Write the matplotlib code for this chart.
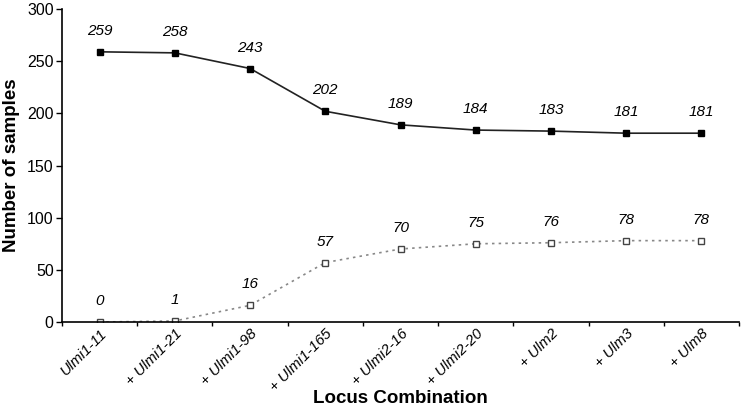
import matplotlib.pyplot as plt
import numpy as np

plt.rcParams['font.family'] = ['Liberation Sans', 'DejaVu Sans']

loci = ["Ulmi1-11", "+ Ulmi1-21", "+ Ulmi1-98", "+ Ulmi1-165", "+ Ulmi2-16",
        "+ Ulmi2-20", "+ Ulm2", "+ Ulm3", "+ Ulm8"]
series_top = [259, 258, 243, 202, 189, 184, 183, 181, 181]
series_bottom = [0, 1, 16, 57, 70, 75, 76, 78, 78]

x = np.arange(len(loci))

fig = plt.figure(figsize=(7.42, 4.11), dpi=100)
ax = fig.add_axes([0.0836, 0.2165, 0.9124, 0.7615])

ax.plot(x, series_top, color="#222222", linewidth=1.2, marker="s",
        markersize=5, markerfacecolor="black", markeredgecolor="black")
ax.plot(x, series_bottom, color="#888888", linewidth=1.2, linestyle=(0, (1.5, 2.5)),
        marker="s", markersize=5, markerfacecolor="white",
        markeredgecolor="#444444", markeredgewidth=1.0)

for xi, v in zip(x, series_top):
    ax.annotate(str(v), (xi, v), xytext=(0, 10), textcoords="offset points",
                ha="center", va="bottom", fontsize=11, style="italic")
for xi, v in zip(x, series_bottom):
    ax.annotate(str(v), (xi, v), xytext=(0, 10), textcoords="offset points",
                ha="center", va="bottom", fontsize=11, style="italic")

ax.set_xlim(-0.5, len(loci) - 0.5)
ax.set_ylim(0, 300)
ax.set_yticks(np.arange(0, 301, 50))
ax.tick_params(axis="y", labelsize=11.5, direction="out", length=4, width=1, pad=2)

ax.set_xticks(x)
ax.set_xticklabels(loci, rotation=45, ha="right", rotation_mode="anchor",
                   fontsize=10.8, style="italic")
ax.tick_params(axis="x", which="major", length=0, pad=3)
ax.set_xticks(np.arange(len(loci) + 1) - 0.5, minor=True)
ax.tick_params(axis="x", which="minor", direction="out", length=3, width=1)

for side in ("top", "right"):
    ax.spines[side].set_visible(False)
for side in ("left", "bottom"):
    ax.spines[side].set_linewidth(1.2)

ax.set_ylabel("Number of samples", fontsize=13.5, fontweight="bold", labelpad=5)
ax.set_xlabel("Locus Combination", fontsize=13.5, fontweight="bold", va="center")
ax.xaxis.set_label_coords(0.5, -0.245)

fig.savefig("out.png", dpi=100)
